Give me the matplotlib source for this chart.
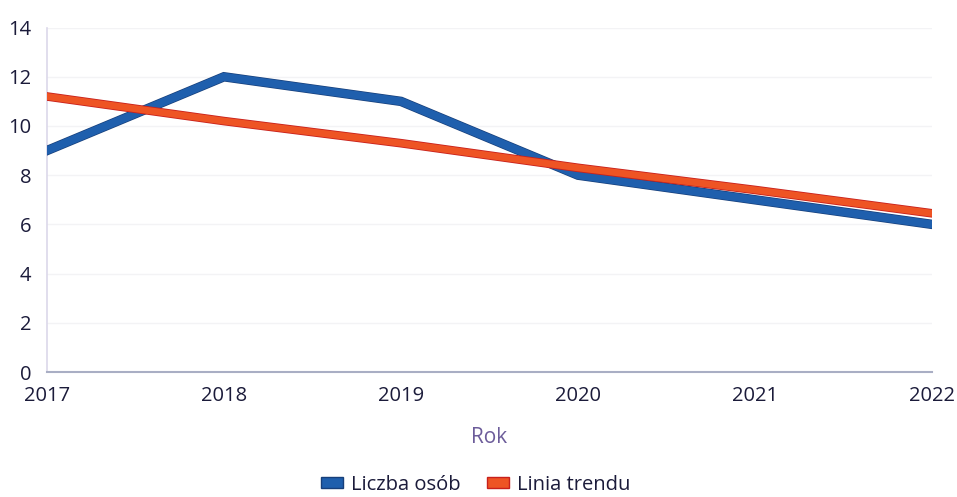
import matplotlib

matplotlib.use("Agg")
import matplotlib.patheffects as pe
import matplotlib.pyplot as plt
from matplotlib.patches import Patch

years = [2017, 2018, 2019, 2020, 2021, 2022]
liczba_osob = [9, 12, 11, 8, 7, 6]
linia_trendu = [11.2, 10.2, 9.3, 8.3, 7.4, 6.45]
y_ticks = [0, 2, 4, 6, 8, 10, 12, 14]

BLUE = "#1f5fad"
RED = "#ee5424"
TEXT = "#1b1b3a"

plt.rcParams["font.family"] = ["Open Sans", "DejaVu Sans"]

fig = plt.figure(figsize=(9.57, 4.97), dpi=100)
ax = fig.add_axes([0.049, 0.2515, 0.925, 0.693])

ax.plot(
    years, liczba_osob, color=BLUE, linewidth=5.8, solid_joinstyle="miter",
    path_effects=[pe.Stroke(linewidth=6.8, foreground="#173f7a"), pe.Normal()],
    zorder=3,
)
ax.plot(
    years, linia_trendu, color=RED, linewidth=5.0,
    path_effects=[pe.Stroke(linewidth=6.2, foreground="#c8201c"), pe.Normal()],
    zorder=4,
)

ax.set_xlim(years[0], years[-1])
ax.set_ylim(0, 14)
ax.set_yticks(y_ticks)
ax.set_xticks(years)
ax.grid(axis="y", color="#f3f3f5", linewidth=1)
ax.set_axisbelow(True)

for side in ("top", "right"):
    ax.spines[side].set_visible(False)
ax.spines["left"].set_color("#dcd8ea")
ax.spines["left"].set_linewidth(1.2)
ax.spines["bottom"].set_color("#a9aec4")
ax.spines["bottom"].set_linewidth(1.5)

ax.tick_params(axis="y", length=0, pad=11, labelsize=14.5, labelcolor=TEXT)
ax.tick_params(axis="x", length=0, pad=10, labelsize=14.5, labelcolor=TEXT)
ax.set_xlabel("Rok", fontsize=15, color="#6c5c9a", labelpad=15)

handles = [
    Patch(facecolor=BLUE, edgecolor="#173f7a", label="Liczba osób"),
    Patch(facecolor=RED, edgecolor="#c8201c", label="Linia trendu"),
]
fig.legend(
    handles=handles, loc="center", bbox_to_anchor=(0.497, 0.025), ncol=2,
    frameon=False, fontsize=14.5, handlelength=1.1, handleheight=0.5,
    handletextpad=0.4, columnspacing=1.3, labelcolor=TEXT,
)

fig.savefig("out.png", dpi=100)
